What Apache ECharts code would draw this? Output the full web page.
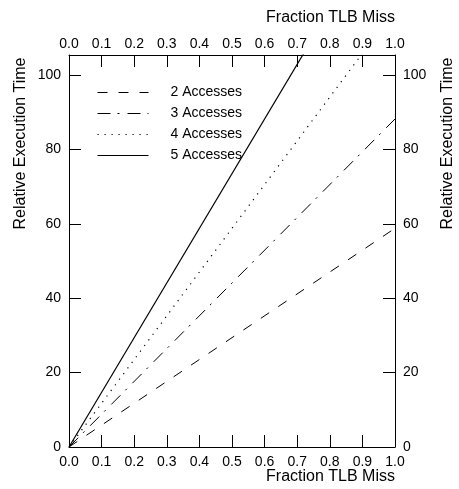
<!DOCTYPE html>
<html>
<head>
<meta charset="utf-8">
<script src="https://cdn.jsdelivr.net/npm/echarts@6/dist/echarts.min.js"></script>
<style>
  html, body { margin: 0; padding: 0; background: #fff; }
  #chart { width: 459px; height: 489px; }
</style>
</head>
<body>
<div id="chart"></div>
<script>
// values
const missFraction = [0.0, 1.0];
const access2 = [0, 58.8];
const access3 = [0, 88.2];
const access4 = [0, 117.6];
const access5 = [0, 147.0];
const seriesNames = ['2 Accesses', '3 Accesses', '4 Accesses', '5 Accesses'];
const xTitle = 'Fraction TLB Miss';
const yTitle = 'Relative Execution Time';

const FONT = '"Liberation Sans", Arial, sans-serif';

function pairs(ys) {
  return missFraction.map((x, i) => [x, ys[i]]);
}

const chart = echarts.init(document.getElementById('chart'));

function xAxisFor(position, labelMargin) {
  return {
    type: 'value',
    position: position,
    min: 0,
    max: 1,
    interval: 0.1,
    splitLine: { show: false },
    axisLine: { show: true, onZero: false, lineStyle: { color: '#000', width: 1 } },
    axisTick: { show: true, inside: true, length: 12, lineStyle: { color: '#000', width: 1 } },
    axisLabel: {
      color: '#000',
      fontSize: 14,
      fontFamily: FONT,
      margin: labelMargin,
      formatter: (v) => v.toFixed(1),
    },
  };
}

function yAxisFor(position) {
  return {
    type: 'value',
    position: position,
    min: 0,
    max: 105.4,
    interval: 20,
    splitLine: { show: false },
    axisLine: { show: true, onZero: false, lineStyle: { color: '#000', width: 1 } },
    axisTick: { show: true, inside: true, length: 12, lineStyle: { color: '#000', width: 1 } },
    axisLabel: {
      color: '#000',
      fontSize: 14,
      fontFamily: FONT,
      margin: 8,
      showMaxLabel: false,
    },
  };
}

function titleText(text, x, y, align, rotation) {
  return {
    type: 'text',
    x: x,
    y: y,
    rotation: rotation,
    silent: true,
    style: {
      text: text,
      fill: '#000',
      fontSize: 16,
      fontFamily: FONT,
      align: align,
      verticalAlign: 'middle',
    },
  };
}

// no global backgroundColor: with it set, the inside ticks did not show
const option = {
  animation: false,
  grid: { left: 69, right: 64, top: 55, bottom: 42, outerBoundsMode: 'none' },
  legend: {
    orient: 'vertical',
    left: 92,
    top: 80.5,
    itemWidth: 51,
    itemHeight: 14,
    itemGap: 7,
    data: seriesNames,
    itemStyle: { opacity: 0, color: 'rgba(0,0,0,0)', borderWidth: 0 },
    lineStyle: { width: 1 },
    textStyle: {
      color: '#000',
      fontSize: 14,
      fontFamily: FONT,
      padding: [0, 0, 0, 17],
    },
  },
  graphic: [
    titleText(xTitle, 395, 18, 'right', 0),
    titleText(xTitle, 395, 477, 'right', 0),
    titleText(yTitle, 20.5, 143.5, 'center', Math.PI / 2),
    titleText(yTitle, 447.5, 143.5, 'center', Math.PI / 2),
  ],
  xAxis: [
    xAxisFor('bottom', 8),
    xAxisFor('top', 4),
  ],
  yAxis: [
    yAxisFor('left'),
    yAxisFor('right'),
  ],
  series: [
    {
      name: seriesNames[0], type: 'line', data: pairs(access2),
      symbol: 'none', color: '#000',
      lineStyle: { color: '#000', width: 1, type: [10, 11] },
    },
    {
      name: seriesNames[1], type: 'line', data: pairs(access3),
      symbol: 'none', color: '#000',
      lineStyle: { color: '#000', width: 1, type: [13, 7, 2, 8] },
    },
    {
      name: seriesNames[2], type: 'line', data: pairs(access4),
      symbol: 'none', color: '#000',
      lineStyle: { color: '#000', width: 1.2, type: [1.2, 5.8] },
    },
    {
      name: seriesNames[3], type: 'line', data: pairs(access5),
      symbol: 'none', color: '#000',
      lineStyle: { color: '#000', width: 1.2, type: 'solid' },
    },
  ],
};

chart.setOption(option);
</script>
</body>
</html>
